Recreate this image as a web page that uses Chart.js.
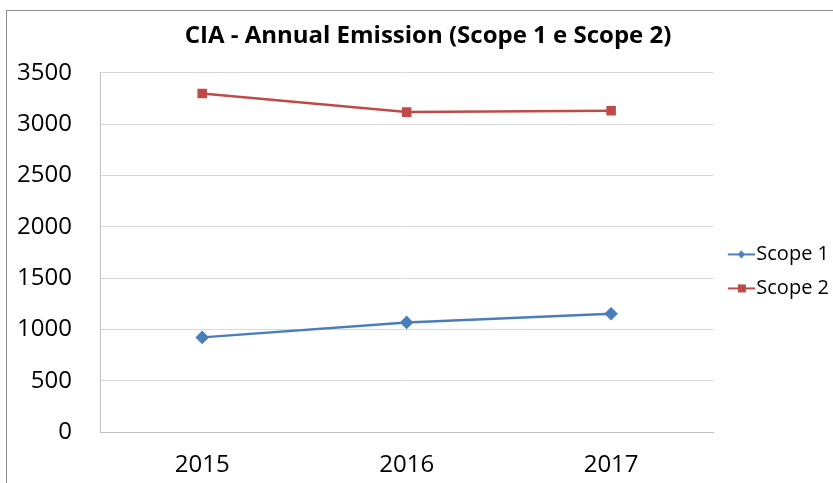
<!DOCTYPE html>
<html>
<head>
<meta charset="utf-8">
<script src="https://cdn.jsdelivr.net/npm/chart.js@4"></script>
<style>
	html, body { margin: 0; padding: 0; background: #fff; }
	#box {
		position: absolute;
		left: 6px;
		top: 10px;
		width: 827px;
		height: 473px;
		border-left: 1px solid #8c8c8c;
		border-top: 1px solid #8c8c8c;
	}
</style>
</head>
<body>
<div id="box"><canvas id="c"></canvas></div>
<script>
const years = ["2015", "2016", "2017"];
const scope1 = [922, 1068, 1153];
const scope2 = [3299, 3117, 3131];
const yTicks = [0, 500, 1000, 1500, 2000, 2500, 3000, 3500];

const FONT = "'Open Sans', sans-serif";

// legend marker: short line with the point on it (drawn in the right part of the canvas)
function legendIcon(color, style) {
	const c = document.createElement("canvas");
	c.width = 36;
	c.height = 10;
	const ctx = c.getContext("2d");
	ctx.strokeStyle = color;
	ctx.lineWidth = 2;
	ctx.beginPath();
	ctx.moveTo(9, 5);
	ctx.lineTo(36, 5);
	ctx.stroke();
	ctx.fillStyle = color;
	if (style === "rect") {
		ctx.fillRect(19, 1, 8, 8);
	} else {
		ctx.beginPath();
		ctx.moveTo(22.5, 1);
		ctx.lineTo(26.5, 5);
		ctx.lineTo(22.5, 9);
		ctx.lineTo(18.5, 5);
		ctx.closePath();
		ctx.fill();
	}
	return c;
}

new Chart(document.getElementById("c"), {
	type: "line",
	data: {
		labels: years,
		datasets: [
			{
				label: "Scope 1",
				data: scope1,
				borderColor: "#4a7ebb",
				backgroundColor: "#4a7ebb",
				borderWidth: 2.5,
				pointStyle: "rectRot",
				pointRadius: 5,
				tension: 0
			},
			{
				label: "Scope 2",
				data: scope2,
				borderColor: "#be4b48",
				backgroundColor: "#be4b48",
				borderWidth: 2.5,
				pointStyle: "rect",
				pointRadius: 5,
				tension: 0
			}
		]
	},
	options: {
		responsive: true,
		maintainAspectRatio: false,
		animation: false,
		layout: {
			padding: { left: 10, right: -5, top: 11, bottom: 4 }
		},
		scales: {
			x: {
				offset: true,
				grid: { display: false, drawTicks: false },
				border: { color: "#bfbfbf" },
				ticks: {
					color: "#000",
					font: { family: FONT, size: 24 },
					padding: 19
				},
				afterFit: axis => { axis.height = 48; }
			},
			y: {
				min: 0,
				max: 3500,
				afterBuildTicks: axis => {
					axis.ticks = yTicks.map(v => ({ value: v }));
				},
				grid: { color: "#d9d9d9", drawTicks: false },
				border: { color: "#bfbfbf" },
				ticks: {
					color: "#000",
					font: { family: FONT, size: 24 },
					padding: 28,
					callback: v => String(v)
				},
				afterFit: axis => { axis.width = 83; }
			}
		},
		plugins: {
			title: {
				display: true,
				text: "CIA - Annual Emission (Scope 1 e Scope 2)",
				color: "#000",
				font: { family: FONT, size: 24, weight: "bold" },
				padding: { top: 0, bottom: 22 }
			},
			legend: {
				position: "right",
				title: {
					display: true,
					text: " ",
					font: { size: 34 },
					padding: 0
				},
				labels: {
					color: "#000",
					font: { family: FONT, size: 20 },
					usePointStyle: true,
					pointStyleWidth: 19,
					padding: 14,
					generateLabels: chart => chart.data.datasets.map((ds, i) => ({
						text: ds.label,
						fontColor: "#000",
						pointStyle: legendIcon(ds.borderColor, ds.pointStyle),
						fillStyle: ds.borderColor,
						strokeStyle: ds.borderColor,
						lineWidth: 0,
						datasetIndex: i
					}))
				}
			},
			tooltip: { enabled: false }
		}
	}
});
</script>
</body>
</html>
